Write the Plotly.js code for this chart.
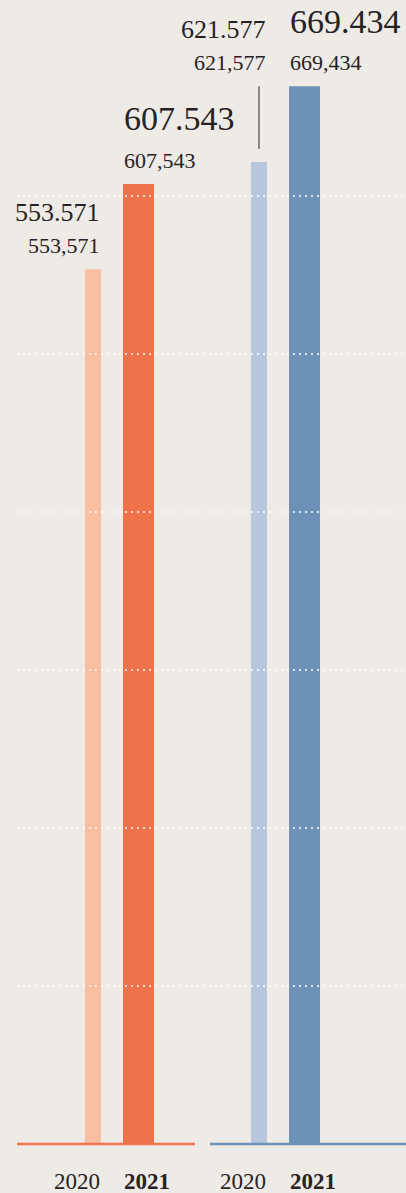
<!DOCTYPE html>
<html>
<head>
<meta charset="utf-8">
<script src="https://cdn.plot.ly/plotly-3.0.1.min.js"></script>
<style>
  html, body { margin: 0; padding: 0; background: #eeeae5; }
  #chart { width: 406px; height: 1193px; }
</style>
</head>
<body>
<div id="chart"></div>
<script>
// ---- data ----
const years = ['2020', '2021'];
const leftValues = [553571, 607543];   // orange group
const rightValues = [621577, 669434];  // blue group
const gridValues = [100000, 200000, 300000, 400000, 500000, 600000];

// ---- styling ----
const BG = '#eeeae5';
const TEXT = '#262223';
const FONT = '"Liberation Serif", "Times New Roman", serif';
const orangeColors = ['#f9bea0', '#f0724a'];
const blueColors = ['#b8c7de', '#6c93b7'];
const barWidths = [0.352, 0.681];
const W = 406, H = 1193, MB = 47;
const PX_PER_UNIT = 0.00158;
const unitsPerPx = 1 / PX_PER_UNIT;
const Y_MIN = -2 * unitsPerPx;          // room below zero for the baseline stroke
const Y_MAX = 1144 * unitsPerPx;

function fmt(v, sep) {
  const s = String(Math.round(v));
  return s.replace(/\B(?=(\d{3})+(?!\d))/g, sep);
}

const traces = [
  { type: 'bar', x: years, y: leftValues, xaxis: 'x', yaxis: 'y',
    marker: { color: orangeColors }, width: barWidths, hoverinfo: 'skip' },
  { type: 'bar', x: years, y: rightValues, xaxis: 'x2', yaxis: 'y',
    marker: { color: blueColors }, width: barWidths, hoverinfo: 'skip' }
];

const annotations = [];
const shapes = [];

// dotted gridlines, drawn above bars
gridValues.forEach(g => {
  shapes.push({ type: 'line', xref: 'paper', yref: 'y', x0: 17 / W, x1: 1, y0: g, y1: g,
    line: { color: '#ffffff', width: 1.5, dash: '2px,4px' }, layer: 'above' });
});

function addGroup(xref, values, lineColor) {
  // baseline
  shapes.push({ type: 'line', xref: xref + ' domain', yref: 'y', x0: 0, x1: 1, y0: 0, y1: 0,
    line: { color: lineColor, width: 2.6 }, layer: 'above' });
  values.forEach((v, i) => {
    let level = v;
    if (i === 0 && values[1] - values[0] < 50000) {
      level = values[1];
      shapes.push({ type: 'line', xref: xref, yref: 'y', x0: 0, x1: 0,
        y0: v + 13 * unitsPerPx, y1: level, line: { color: TEXT, width: 1 }, layer: 'above' });
    }
    const xPos = i === 0 ? i + barWidths[0] / 2 : i - barWidths[1] / 2;
    const xanchor = i === 0 ? 'right' : 'left';
    const bigSize = i === 0 ? 26 : 34;
    const bigShift = i === 0 ? 41.4 : 45.7;
    annotations.push({ xref: xref, yref: 'y', x: xPos, y: level, xanchor: xanchor, yanchor: 'bottom',
      yshift: bigShift, text: fmt(v, '.'), showarrow: false, borderpad: 0,
      font: { family: FONT, size: bigSize, color: TEXT } });
    annotations.push({ xref: xref, yref: 'y', x: xPos, y: level, xanchor: xanchor, yanchor: 'bottom',
      yshift: 10.25, text: fmt(v, ','), showarrow: false, borderpad: 0,
      font: { family: FONT, size: 22, color: TEXT } });
    // year label
    annotations.push({ xref: xref, yref: 'paper', x: xPos, y: 0, xanchor: xanchor, yanchor: 'top',
      yshift: -21.5, text: i === 1 ? '<b>' + years[i] + '</b>' : years[i], showarrow: false, borderpad: 0,
      font: { family: FONT, size: 23, color: TEXT } });
  });
}
addGroup('x', leftValues, orangeColors[1]);
addGroup('x2', rightValues, blueColors[1]);

const axisBase = { type: 'category', showgrid: false, zeroline: false, showline: false,
  showticklabels: false, ticks: '', fixedrange: true };

const layout = {
  width: W, height: H,
  margin: { l: 0, r: 0, t: 0, b: MB, pad: 0 },
  paper_bgcolor: BG, plot_bgcolor: BG,
  showlegend: false, hovermode: false,
  xaxis: Object.assign({}, axisBase, { domain: [17 / W, 195 / W], range: [-1.670, 2.242] }),
  xaxis2: Object.assign({}, axisBase, { domain: [210 / W, 1], range: [-1.077, 3.231], anchor: 'y' }),
  yaxis: { range: [Y_MIN, Y_MAX], showgrid: false, zeroline: false, showline: false,
    showticklabels: false, ticks: '', fixedrange: true },
  annotations: annotations,
  shapes: shapes
};

Plotly.newPlot('chart', traces, layout, { displayModeBar: false, staticPlot: true });
</script>
</body>
</html>
